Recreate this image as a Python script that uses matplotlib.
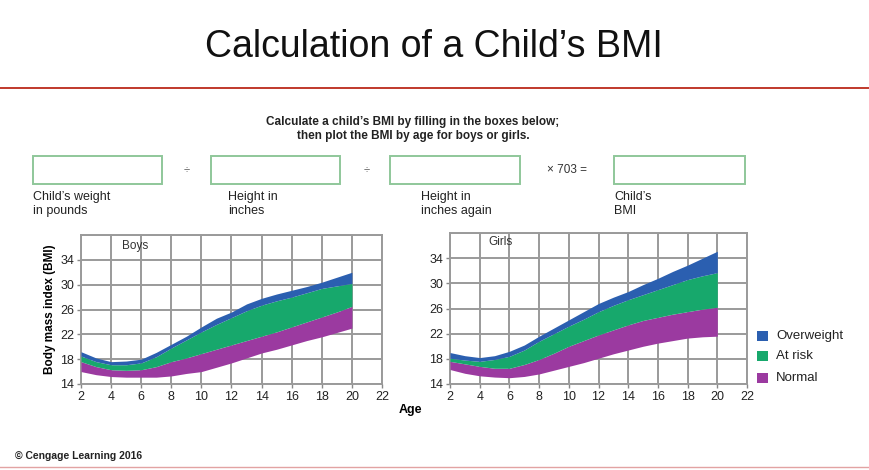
import matplotlib.pyplot as plt
from matplotlib.patches import Rectangle
from matplotlib.lines import Line2D

plt.rcParams['font.family'] = ['Liberation Sans', 'DejaVu Sans']

# Ages
ages = [2, 3, 4, 5, 6, 7, 8, 9, 10, 11, 12, 13, 14, 15, 16, 17, 18, 19, 20]

# Boys BMI band edges
boys_low = [16.0, 15.5, 15.2, 15.1, 15.1, 15.1, 15.3, 15.7, 16.0, 16.7, 17.4,
            18.2, 19.0, 19.6, 20.3, 21.0, 21.6, 22.3, 23.0]
boys_normal = [17.6, 16.8, 16.3, 16.2, 16.3, 16.8, 17.6, 18.2, 18.9, 19.6, 20.3,
               21.0, 21.7, 22.4, 23.2, 24.0, 24.8, 25.6, 26.5]
boys_risk = [18.5, 17.6, 17.1, 17.1, 17.4, 18.4, 19.8, 21.1, 22.4, 23.6, 24.7,
             25.8, 26.7, 27.4, 28.0, 28.7, 29.4, 29.8, 30.2]
boys_over = [19.2, 18.2, 17.6, 17.7, 18.0, 19.1, 20.4, 21.7, 23.2, 24.6, 25.6,
             26.9, 27.8, 28.5, 29.1, 29.7, 30.4, 31.2, 32.0]

# Girls BMI band edges
girls_low = [16.3, 15.7, 15.3, 15.1, 15.0, 15.2, 15.6, 16.2, 16.8, 17.4, 18.1,
             18.8, 19.4, 20.0, 20.5, 20.9, 21.3, 21.5, 21.6]
girls_normal = [17.6, 17.2, 16.8, 16.5, 16.5, 17.1, 17.9, 18.9, 20.0, 20.9, 21.8,
                22.6, 23.4, 24.1, 24.6, 25.1, 25.5, 25.9, 26.2]
girls_risk = [18.1, 17.8, 17.6, 17.9, 18.4, 19.4, 20.8, 22.0, 23.2, 24.3, 25.5,
              26.5, 27.4, 28.2, 29.0, 29.8, 30.6, 31.2, 31.7]
girls_over = [19.0, 18.5, 18.2, 18.5, 19.2, 20.2, 21.6, 22.9, 24.2, 25.5, 26.8,
              27.8, 28.7, 29.8, 30.8, 31.9, 32.9, 34.0, 35.1]

x_ticks = [2, 4, 6, 8, 10, 12, 14, 16, 18, 20, 22]
y_ticks = [14, 18, 22, 26, 30, 34]
band_names = ['Overweight', 'At risk', 'Normal']
band_colors = ['#2b5fb0', '#17a86c', '#9b3aa0']

W, H = 870, 470
fig = plt.figure(figsize=(8.7, 4.7), dpi=100)
fig.patch.set_facecolor('white')


def px(x, y):
    return x / W, 1 - y / H


# header
fig.text(*px(434, 47), "Calculation of a Child\u2019s BMI", ha='center', va='center',
         fontsize=27, color='#111111')
fig.add_artist(Line2D([0, 1], [1 - 88 / H] * 2, color='#c0392b', lw=1.4))
fig.add_artist(Line2D([0, 1], [1 - 467 / H] * 2, color='#e2a3a3', lw=1.0))

fig.text(*px(413, 129), "Calculate a child\u2019s BMI by filling in the boxes below;\n"
         "then plot the BMI by age for boys or girls.",
         ha='center', va='center', fontsize=8.5, fontweight='bold', linespacing=1.25,
         color='#222222')

# input boxes
boxes = [(33, 162), (211, 340), (390, 520), (614, 745)]
for x0, x1 in boxes:
    fig.add_artist(Rectangle(px(x0, 184), (x1 - x0) / W, 28 / H,
                             facecolor='white', edgecolor='#8fc79a', lw=1.4))
fig.text(*px(187, 170), "\u00f7", ha='center', va='center', fontsize=8, color='#555555')
fig.text(*px(367, 170), "\u00f7", ha='center', va='center', fontsize=8, color='#555555')
fig.text(*px(567, 170), "\u00d7 703 =", ha='center', va='center', fontsize=8.5, color='#333333')
labels = [(33, "Child\u2019s weight\nin pounds"), (228, "Height in\ninches"),
          (421, "Height in\ninches again"), (614, "Child\u2019s\nBMI")]
for x0, s in labels:
    fig.text(*px(x0, 204), s, ha='left', va='center', fontsize=9, linespacing=1.15,
             color='#222222')


def draw(ax, low, normal, risk, over, name, name_xy):
    ax.fill_between(ages, low, normal, color=band_colors[2], lw=0, zorder=3)
    ax.fill_between(ages, normal, risk, color=band_colors[1], lw=0, zorder=3)
    ax.fill_between(ages, risk, over, color=band_colors[0], lw=0, zorder=3)
    ax.set_xlim(2, 22)
    ax.set_ylim(14, 38)
    ax.set_xticks(x_ticks)
    ax.set_yticks(y_ticks)
    ax.set_yticks([38], minor=True)
    ax.grid(True, which='both', color='#9a9a9a', lw=1.4, zorder=1)
    ax.tick_params(labelsize=9, length=3, width=1, color='#888888', labelcolor='#222222',
                   pad=2)
    ax.tick_params(which='minor', length=0)
    for s in ax.spines.values():
        s.set_color('#9a9a9a')
        s.set_linewidth(1.4)
    ax.text(*name_xy, name, fontsize=8.5, ha='left', va='center', color='#333333')


ax1 = fig.add_axes([81 / W, 1 - 384 / H, (382 - 81) / W, (384 - 235) / H])
draw(ax1, boys_low, boys_normal, boys_risk, boys_over, 'Boys', (4.7, 36.3))
ax1.set_ylabel('Body mass index (BMI)', fontsize=8.5, fontweight='bold', labelpad=3)

ax2 = fig.add_axes([450 / W, 1 - 384 / H, (747 - 450) / W, (384 - 233) / H])
draw(ax2, girls_low, girls_normal, girls_risk, girls_over, 'Girls', (4.6, 36.6))

fig.text(*px(410, 410), "Age", ha='center', va='center', fontsize=9, fontweight='bold')

# legend
for i, (nm, c) in enumerate(zip(band_names, band_colors)):
    y = [336, 356, 378][i]
    fig.add_artist(Rectangle(px(757, y + 5), 11 / W, 10 / H, facecolor=c, edgecolor='none'))
    fig.text(*px(776, y), nm, ha='left', va='center', fontsize=9.5, color='#222222')

fig.text(*px(15, 456), "\u00a9 Cengage Learning 2016", ha='left', va='center',
         fontsize=7.5, fontweight='bold', color='#222222')

fig.savefig('out.png', dpi=100)
